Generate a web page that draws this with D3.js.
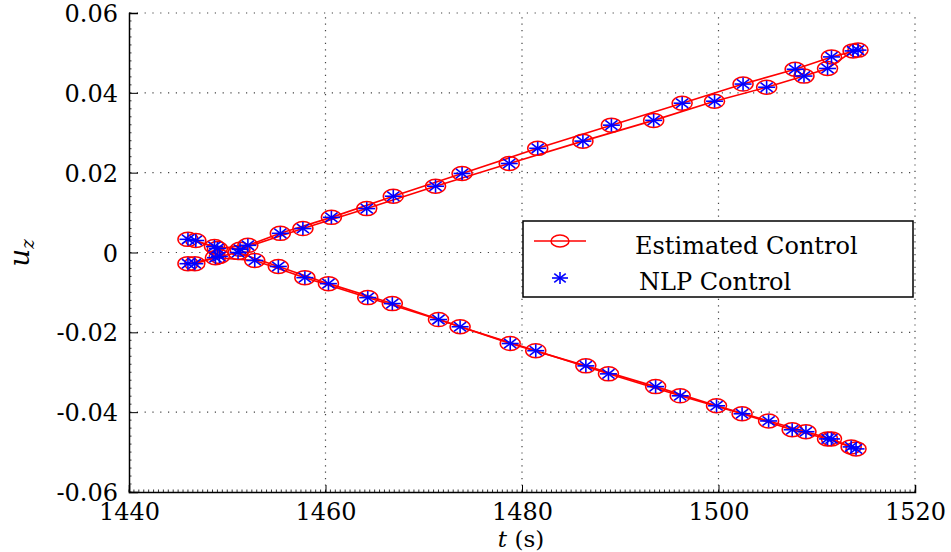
<!DOCTYPE html>
<html>
<head>
<meta charset="utf-8">
<script src="https://cdn.jsdelivr.net/npm/d3@7"></script>
<style>
  html, body { margin: 0; padding: 0; background: #fff; }
  svg { display: block; }
  text { font-family: "DejaVu Serif", "Liberation Serif", serif; fill: #000; }
</style>
</head>
<body>
<svg id="chart" width="951" height="552"></svg>
<script>
// ---- data ----
const xTicks = [1440, 1460, 1480, 1500, 1520];
const yTicks = [-0.06, -0.04, -0.02, 0, 0.02, 0.04, 0.06];
const yTickLabels = ["-0.06", "-0.04", "-0.02", "0", "0.02", "0.04", "0.06"];
const legendLabels = ["Estimated Control", "NLP Control"];

const upperA_t = [1446.8, 1449.0, 1452.1, 1455.4, 1460.6, 1466.9, 1473.9, 1481.6, 1489.1, 1496.3, 1502.5, 1507.8, 1511.5, 1514.2];
const upperA_u = [0.0030, 0.0010, 0.0018, 0.0048, 0.0088, 0.0141, 0.0198, 0.0261, 0.0319, 0.0374, 0.0422, 0.0459, 0.0490, 0.0507];
const upperB_t = [1446.0, 1448.7, 1451.3, 1457.7, 1464.2, 1471.2, 1478.7, 1486.2, 1493.4, 1499.6, 1504.9, 1508.7, 1511.1, 1513.7];
const upperB_u = [0.0033, 0.0015, 0.0008, 0.0060, 0.0110, 0.0166, 0.0223, 0.0279, 0.0331, 0.0379, 0.0414, 0.0442, 0.0461, 0.0505];
const lowerA_t = [1446.0, 1448.8, 1452.8, 1457.9, 1464.3, 1471.5, 1478.8, 1486.5, 1493.6, 1499.8, 1505.1, 1508.9, 1511.5, 1514.0];
const lowerA_u = [-0.0028, -0.0013, -0.0020, -0.0063, -0.0113, -0.0168, -0.0228, -0.0284, -0.0336, -0.0384, -0.0422, -0.0449, -0.0467, -0.0492];
const lowerB_t = [1446.7, 1449.2, 1451.1, 1455.2, 1460.3, 1466.8, 1473.7, 1481.4, 1488.8, 1496.1, 1502.4, 1507.5, 1511.1, 1513.5];
const lowerB_u = [-0.0028, -0.0010, 0.0000, -0.0035, -0.0078, -0.0128, -0.0186, -0.0246, -0.0304, -0.0359, -0.0404, -0.0444, -0.0467, -0.0487];

const seriesList = [
  {t: upperA_t, u: upperA_u},
  {t: upperB_t, u: upperB_u},
  {t: lowerA_t, u: lowerA_u},
  {t: lowerB_t, u: lowerB_u}
];

// ---- layout ----
const svg = d3.select("#chart");
const L = 129, R = 915, T = 13, B = 492;
const x = d3.scaleLinear().domain([1440, 1520]).range([L, R]);
const y = d3.scaleLinear().domain([-0.06, 0.06]).range([B, T]);

const RED = "#ff0000", BLUE = "#0000ff";

// grid (dotted)
const grid = svg.append("g");
xTicks.filter(v => v > 1440).forEach(v => {
  grid.append("line").attr("x1", x(v)).attr("x2", x(v)).attr("y1", B).attr("y2", T)
    .attr("stroke", "#444").attr("stroke-width", 1.2).attr("stroke-dasharray", "1.2,5.2");
});
yTicks.filter(v => v > -0.06).forEach(v => {
  grid.append("line").attr("x1", L).attr("x2", R).attr("y1", y(v)).attr("y2", y(v))
    .attr("stroke", "#444").attr("stroke-width", 1.2).attr("stroke-dasharray", "1.2,6.6");
});

// axes
const xAxis = d3.axisBottom(x).tickValues(xTicks).tickSize(-7).tickPadding(11).tickFormat(d3.format("d"));
const gx = svg.append("g").attr("transform", `translate(0,${B})`).call(xAxis);
const yAxis = d3.axisLeft(y).tickValues(yTicks).tickSize(-9).tickPadding(11)
  .tickFormat(d => yTickLabels[yTicks.indexOf(d)]);
const gy = svg.append("g").attr("transform", `translate(${L},0)`).call(yAxis);
[gx, gy].forEach(g => {
  g.select(".domain").attr("stroke", "#000").attr("stroke-width", 1.5);
  g.selectAll(".tick line").attr("stroke", "#000").attr("stroke-width", 1);
  g.selectAll(".tick text").style("font-family", "DejaVu Serif").style("font-size", "24px").attr("fill", "#000");
});
gy.selectAll(".tick text").attr("dy", "0.36em");
gx.selectAll(".tick text").attr("dy", "0.71em");

// minor ticks
const minorX = d3.range(1440, 1520.001, 0.5);
svg.append("g").selectAll("line").data(minorX).join("line")
  .attr("x1", d => x(d)).attr("x2", d => x(d)).attr("y1", B).attr("y2", B - 2.5)
  .attr("stroke", "#000").attr("stroke-width", 0.8);
const minorY = d3.range(-0.06, 0.06001, 0.002);
svg.append("g").selectAll("line").data(minorY).join("line")
  .attr("x1", L).attr("x2", L + 2.5).attr("y1", d => y(d)).attr("y2", d => y(d))
  .attr("stroke", "#000").attr("stroke-width", 0.8);

// lines
const line = d3.line().x(d => x(d[0])).y(d => y(d[1]));
const plot = svg.append("g");
seriesList.forEach(s => {
  const pts = s.t.map((t, i) => [t, s.u[i]]);
  plot.append("path").datum(pts).attr("d", line)
    .attr("fill", "none").attr("stroke", RED).attr("stroke-width", 1.6);
});

function asterisk(g, cx, cy, hx, hy) {
  const dx = hx * 0.72, dy = hy * 0.72;
  const segs = [[-hx, 0, hx, 0], [0, -hy, 0, hy], [-dx, -dy, dx, dy], [-dx, dy, dx, -dy]];
  segs.forEach(s => g.append("line")
    .attr("x1", cx + s[0]).attr("y1", cy + s[1]).attr("x2", cx + s[2]).attr("y2", cy + s[3])
    .attr("stroke", BLUE).attr("stroke-width", 1.6));
}

// markers
seriesList.forEach(s => {
  s.t.forEach((t, i) => {
    plot.append("ellipse").attr("cx", x(t)).attr("cy", y(s.u[i]))
      .attr("rx", 10).attr("ry", 7).attr("fill", "none").attr("stroke", RED).attr("stroke-width", 1.5);
  });
});
seriesList.forEach(s => {
  s.t.forEach((t, i) => asterisk(plot, x(t), y(s.u[i]), 8.5, 6.5));
});

// axis labels
const xl = svg.append("text").attr("x", 521).attr("y", 547).attr("text-anchor", "middle")
  .style("font-size", "23px");
xl.append("tspan").style("font-style", "italic").text("t");
xl.append("tspan").text(" (s)");

const yl = svg.append("text").attr("transform", "translate(29,253) rotate(-90)")
  .attr("text-anchor", "middle").style("font-size", "28px");
yl.append("tspan").style("font-style", "italic").text("u");
yl.append("tspan").style("font-style", "italic").style("font-size", "18px").attr("dy", 5).text("z");

// legend
const lg = svg.append("g");
lg.append("rect").attr("x", 523).attr("y", 221).attr("width", 390).attr("height", 76)
  .attr("fill", "#fff").attr("stroke", "#000").attr("stroke-width", 1.5);
lg.append("line").attr("x1", 534).attr("x2", 586).attr("y1", 241).attr("y2", 241)
  .attr("stroke", RED).attr("stroke-width", 1.6);
lg.append("ellipse").attr("cx", 560).attr("cy", 241).attr("rx", 9).attr("ry", 6)
  .attr("fill", "none").attr("stroke", RED).attr("stroke-width", 1.5);
asterisk(lg, 560, 278, 8, 6);
lg.append("text").attr("x", 635).attr("y", 254).style("font-size", "24px").text(legendLabels[0]);
lg.append("text").attr("x", 639).attr("y", 290).style("font-size", "24px").text(legendLabels[1]);
</script>
</body>
</html>
